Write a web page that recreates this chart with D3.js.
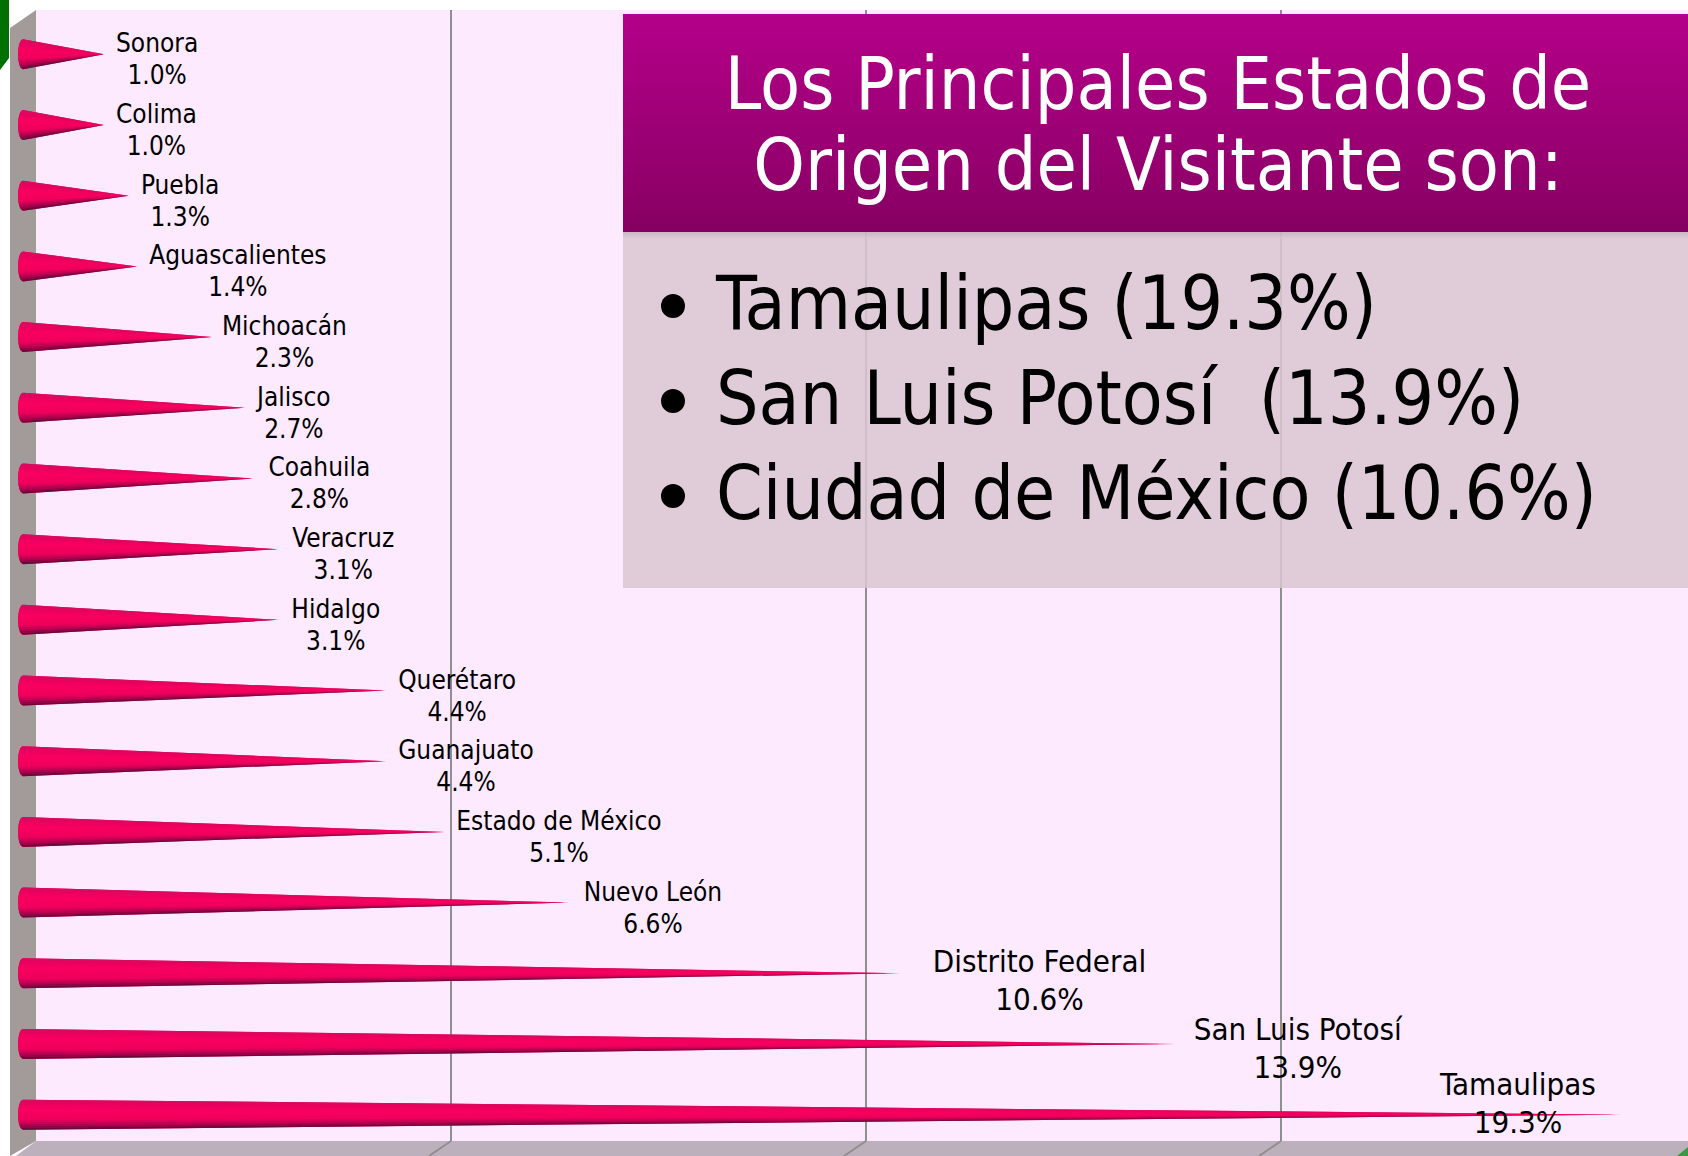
<!DOCTYPE html>
<html>
<head>
<meta charset="utf-8">
<script src="https://cdn.jsdelivr.net/npm/d3@7"></script>
<style>
  html, body { margin: 0; padding: 0; background: #fff; }
  svg { display: block; }
  text { font-family: "DejaVu Sans Condensed", "DejaVu Sans", sans-serif; }
</style>
</head>
<body>
<svg id="chart"></svg>
<script>
// top to bottom
const estados = ['Sonora', 'Colima', 'Puebla', 'Aguascalientes', 'Michoacán', 'Jalisco', 'Coahuila', 'Veracruz', 'Hidalgo', 'Querétaro', 'Guanajuato', 'Estado de México', 'Nuevo León', 'Distrito Federal', 'San Luis Potosí', 'Tamaulipas'];
const porcentajes = [1.0, 1.0, 1.3, 1.4, 2.3, 2.7, 2.8, 3.1, 3.1, 4.4, 4.4, 5.1, 6.6, 10.6, 13.9, 19.3];
const ticks = [0, 5, 10, 15];
const titulo = ['Los Principales Estados de', 'Origen del Visitante son:'];
const principales = ['Tamaulipas (19.3%)', 'San Luis Potosí  (13.9%)', 'Ciudad de México (10.6%)'];

const WIDTH = 1688;
const HEIGHT = 1156;
const DEPTH = 18; // 3d offset between the back wall and the cones
const CONE_R = 15;

const margin = { top: 10, right: 0, bottom: 15, left: 36 };

const svg = d3.select('#chart').attr('width', WIDTH).attr('height', HEIGHT);
const defs = svg.append('defs');

const x = d3.scaleLinear().domain([0, 20]).range([margin.left, margin.left + 1660]);
const y = d3.scaleBand().domain(estados).range([19, 1150]);

function linear(id, stops) {
  const g = defs.append('linearGradient').attr('id', id)
    .attr('x1', 0).attr('y1', 0).attr('x2', 0).attr('y2', 1);
  stops.forEach(s => g.append('stop').attr('offset', s[0]).attr('stop-color', s[1]));
}

linear('titulo', [[0, '#b4008a'], [0.85, '#8e0068'], [1, '#840060']]);
linear('sombra', [[0, '#b8a4b0'], [1, '#e0ccd8']]);

// shading across a cone, top edge to bottom edge
const shade = d3.scaleLinear()
  .domain([-1, -0.75, -0.3, 0.35, 0.7, 1])
  .range(['#d0105c', '#e80060', '#fa0060', '#ee005c', '#b00050', '#5a0a34']);

// walls
const bottom = HEIGHT - margin.bottom;
svg.append('rect').attr('x', margin.left).attr('y', margin.top)
  .attr('width', WIDTH - margin.left).attr('height', bottom - margin.top).attr('fill', '#fdeaff');
svg.append('polygon')
  .attr('points', [[10, 28], [margin.left, 10], [margin.left, bottom], [10, HEIGHT]].join(' '))
  .attr('fill', '#a39a9a');
svg.append('polygon')
  .attr('points', [[margin.left, bottom], [WIDTH, bottom], [WIDTH, HEIGHT], [16, HEIGHT]].join(' '))
  .attr('fill', '#bdb0bd');

// the green slide decoration behind the chart
svg.append('polygon').attr('points', '0,0 9,0 9,58 0,70').attr('fill', '#007000');
svg.append('polygon').attr('points', '1688,1147 1688,1156 1677,1156').attr('fill', '#3a9a40');

// grid
const grid = svg.append('g').attr('class', 'grid');
grid.selectAll('line.v').data(ticks.slice(1)).enter().append('line')
  .attr('x1', d => x(d)).attr('x2', d => x(d))
  .attr('y1', margin.top).attr('y2', bottom)
  .attr('stroke', '#8f8f8f').attr('stroke-width', 2);
grid.selectAll('line.d').data(ticks.slice(1)).enter().append('line')
  .attr('x1', d => x(d)).attr('x2', d => x(d) - 22)
  .attr('y1', bottom).attr('y2', HEIGHT)
  .attr('stroke', '#8f8f8f').attr('stroke-width', 2);

// cones, each built out of thin slices that all run to the tip
const filas = estados.map((e, i) => ({ estado: e, valor: porcentajes[i] }));
const SLICES = 16;
const slices = d3.range(SLICES).map(i => [-1 + (2 * i) / SLICES, -1 + (2 * (i + 1)) / SLICES]);

const cones = svg.append('g').attr('class', 'cones');
cones.selectAll('g').data(filas).enter().append('g')
  .each(function (d) {
    const c = y(d.estado) + y.bandwidth() / 2;
    const x0 = x(0) - DEPTH + 5;
    const tip = x(d.valor) - DEPTH + 3;
    const edge = t => x0 - 5 * Math.sqrt(Math.max(0, 1 - t * t));
    const g = d3.select(this);
    // solid cone underneath so the slice seams don't show
    g.append('path')
      .attr('d', `M${x0},${c - CONE_R} L${tip},${c} L${x0},${c + CONE_R} A5,${CONE_R} 0 0 1 ${x0},${c - CONE_R} Z`)
      .attr('fill', '#ee005c');
    g.selectAll('polygon').data(slices).enter().append('polygon')
      .attr('points', s => [[edge(s[0]), c + s[0] * CONE_R], [tip, c], [edge(s[1]), c + s[1] * CONE_R]].join(' '))
      .attr('fill', s => shade((s[0] + s[1]) / 2));
  });

// label placement: left edge follows the tip, a few are pushed off by hand
const labelGap = d => (d.valor > 10 ? 33 : 15);
const labelNudge = {
  'Michoacán': [-2, 0],
  'Coahuila': [3, 0],
  'Veracruz': [2, 0],
  'Hidalgo': [1, 0],
  'Nuevo León': [3, 0],
  'Distrito Federal': [2, 1],
  'San Luis Potosí': [-11, -2]
};
const labels = svg.append('g').attr('class', 'labels');
labels.selectAll('g').data(filas).enter().append('g')
  .each(function (d) {
    const big = d.valor > 10;
    const size = big ? 31 : 26;
    const lead = big ? 38 : 32;
    const c = y(d.estado) + y.bandwidth() / 2;
    const nudge = labelNudge[d.estado] || [0, 0];
    const g = d3.select(this);
    const t = g.append('text').attr('font-size', size).attr('fill', '#000')
      .attr('y', c - 2 + nudge[1]).text(d.estado);
    const w = t.node().getComputedTextLength();
    let cx = x(d.valor) - DEPTH + labelGap(d) + nudge[0] + w / 2;
    let cy = c - 2 + nudge[1];
    if (d.estado === 'Tamaulipas') { // sits over its own cone, not past the tip
      cx = 1518;
      cy = c - 20;
      t.attr('y', cy);
    }
    t.attr('x', cx).attr('text-anchor', 'middle');
    g.append('text').attr('font-size', size).attr('fill', '#000')
      .attr('x', cx).attr('y', cy + lead).attr('text-anchor', 'middle')
      .text(d.valor.toFixed(1) + '%');
  });

// callout
const boxX = 623;
svg.append('rect').attr('x', boxX).attr('y', 232).attr('width', WIDTH - boxX).attr('height', 356)
  .attr('fill', '#dbc7d1').attr('fill-opacity', 0.85);
svg.append('rect').attr('x', boxX).attr('y', 232).attr('width', WIDTH - boxX).attr('height', 7)
  .attr('fill', 'url(#sombra)').attr('fill-opacity', 0.5);
svg.append('rect').attr('x', boxX).attr('y', 14).attr('width', WIDTH - boxX).attr('height', 218)
  .attr('fill', 'url(#titulo)');

svg.append('g').selectAll('text').data(titulo).enter().append('text')
  .attr('x', 1158).attr('y', (d, i) => 109 + i * 81)
  .attr('text-anchor', 'middle').attr('font-size', 73).attr('fill', '#fff')
  .text(d => d);

const lista = svg.append('g').selectAll('g').data(principales).enter().append('g')
  .attr('transform', (d, i) => `translate(0,${329 + i * 95})`);
lista.append('circle').attr('cx', 673).attr('cy', -23).attr('r', 12).attr('fill', '#000');
lista.append('text').attr('x', 716).attr('font-size', 74.5).attr('fill', '#000')
  .style('white-space', 'pre').text(d => d);
</script>
</body>
</html>
